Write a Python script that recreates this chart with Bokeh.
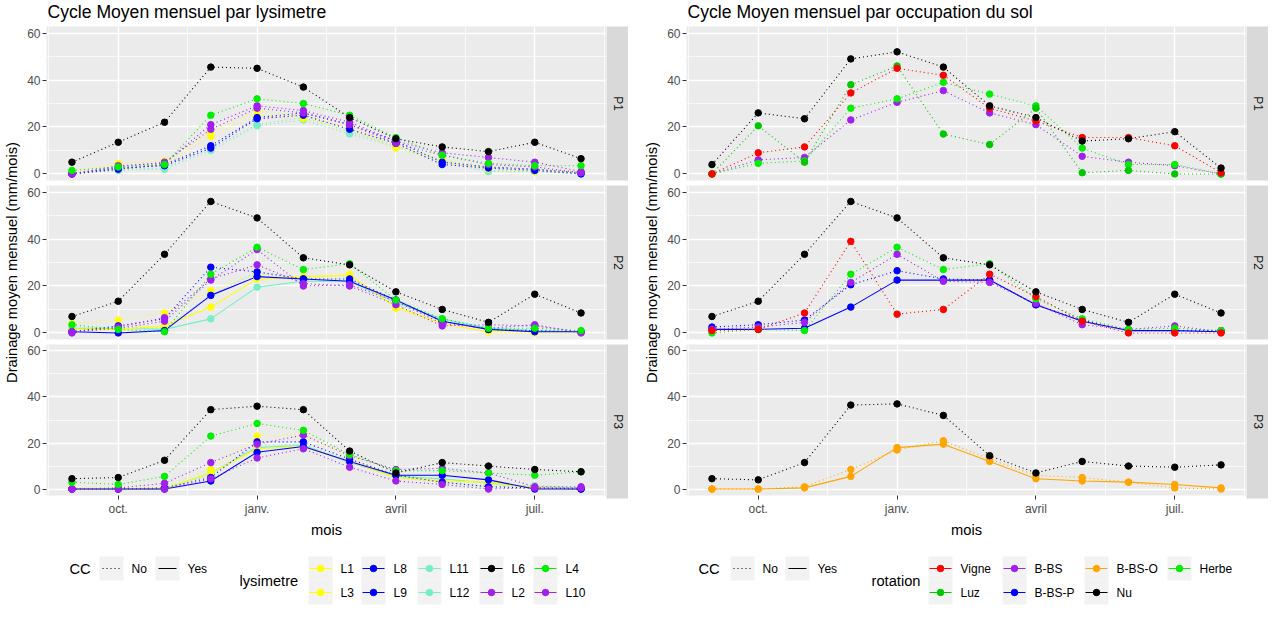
import math
from bokeh.plotting import figure
from bokeh.models import Range1d, FixedTicker, Grid, Label, Spacer
from bokeh.layouts import row, column
from bokeh.embed import file_html
from bokeh.resources import INLINE
from bokeh.core.properties import value

# ---------------- data ----------------
months = ["sept.", "oct.", "nov.", "déc.", "janv.", "févr.", "mars", "avril", "mai", "juin", "juil.", "août"]
month_pos = list(range(len(months)))
x_tick_pos = [1, 4, 7, 10]
x_tick_labels = ["oct.", "janv.", "avril", "juil."]
x_minor_pos = [-0.5, 2.5, 5.5, 8.5, 11.5]
y_tick_pos = [0, 20, 40, 60]
y_minor_pos = [10, 30, 50]
panel_names = ["P1", "P2", "P3"]

# left chart : lysimetre x CC
L11_P1_no = [0.5, 2, 2.5, 11, 21, 24, 18, 12, 6, 1.5, 1, 0.5]
L12_P1_no = [0, 1.5, 2, 10, 20.5, 23, 17, 11.5, 5, 1, 1, 0]
L1_P1_no = [1, 4.5, 5.5, 18, 27, 24.5, 20, 12, 6, 3, 2, 1]
L3_P1_no = [0.5, 2.5, 4, 16, 25, 23.5, 19, 11, 5, 2, 1, 0.5]
L8_P1_no = [0, 2, 4, 12, 24, 26, 21, 14, 5, 3, 2, 0.5]
L9_P1_no = [0, 2.5, 3.5, 11, 23.5, 25, 19, 13, 4, 2.5, 1.5, 0]
L2_P1_no = [0, 3.5, 4.5, 21, 29, 27, 22, 14, 9, 7, 5, 1]
L10_P1_no = [0, 3, 5, 19, 28, 26, 21, 13, 8, 4, 3, 0.5]
L4_P1_no = [1.5, 3, 4, 25, 32, 30, 25, 15.5, 8, 4.5, 3.5, 3.5]
L6_P1_no = [5, 13.5, 22, 45.5, 45, 37, 24, 15, 11.5, 9.5, 13.5, 6.5]

L11_P2_no = [2, 2.5, 2, 16, 26, 22, 22, 12, 6, 1.5, 1, 0.5]
L12_P2_yes = [2, 2, 1.5, 6, 19.5, 22, 22, 13, 6, 2, 1, 0.5]
L1_P2_no = [4, 5.5, 8.5, 18, 25, 23, 25, 10.5, 4, 0.5, 0, 0]
L3_P2_yes = [1.5, 1.5, 3, 11, 23, 24, 24.5, 11, 4, 0.5, 0.5, 0.5]
L8_P2_no = [0.5, 3, 6, 28, 26, 23, 23, 14, 5, 1.5, 1, 0.5]
L9_P2_yes = [0.5, 0, 1, 16, 24, 23, 22, 14, 5, 1.5, 0.5, 0.5]
L2_P2_no = [0.5, 2, 5, 22.5, 35.5, 20, 20.5, 13.5, 4, 2, 3.5, 0]
L10_P2_no = [0, 2.5, 6.5, 23, 29, 21, 20, 12, 3, 3.5, 3, 0.5]
L4_P2_no = [3.5, 1.5, 0.5, 25, 36.5, 27, 29.5, 14, 6, 2, 2, 1]
L6_P2_no = [7, 13.5, 33.5, 56, 49, 32, 29, 17.5, 10, 4.5, 16.5, 8.5]

L11_P3_no = [0, 0, 0.5, 6, 19, 19.5, 12, 5, 3, 1, 1.5, 0.5]
L12_P3_yes = [0, 0, 0, 7, 18, 19, 11.5, 5.5, 4.5, 2.5, 1, 0.5]
L1_P3_no = [0.5, 0.5, 1, 8.5, 23, 24, 14, 5, 3, 2, 1, 0.5]
L3_P3_yes = [0, 0, 0, 7, 17.5, 18.5, 12, 5, 3.5, 3, 0.5, 0]
L8_P3_no = [0, 0, 0.5, 5, 20.5, 20.5, 13, 6, 3, 1, 0.5, 0]
L9_P3_yes = [0, 0, 0, 3.5, 16, 18.5, 12, 6, 6, 4, 0, 0]
L2_P3_no = [0, 0.5, 2.5, 11.5, 19.5, 23.5, 14.5, 8.5, 9, 7, 1, 1]
L10_P3_no = [0, 0, 0, 4.5, 13.5, 17.5, 9.5, 3.5, 2, 0, 0.5, 0.5]
L4_P3_no = [3, 2, 5.5, 23, 28.5, 25.5, 15, 8, 8, 7, 6, 7.5]
L6_P3_no = [4.5, 5, 12.5, 34.5, 36, 34.5, 16.5, 7, 11.5, 10, 8.5, 7.5]

# right chart : rotation x CC
BBS_P1_no = [0, 6, 7, 23, 30.5, 35.5, 26, 21, 7.5, 5, 3.5, 0]
Herbe_P1_no = [0, 4.5, 5.5, 28, 32, 39, 34, 29, 11, 4, 4, 0]
Luz_P1_no = [0, 20.5, 5, 38, 46, 17, 12.5, 28, 0.5, 1.5, 0, 0]
Vigne_P1_no = [0, 9, 11.5, 34.5, 45, 42, 28, 22.5, 15.5, 15.5, 12, 0.5]
Nu_P1_no = [4, 26, 23.5, 49, 52, 45.5, 29, 24, 14, 15, 18, 2.5]

BBSP_P2_yes = [1.5, 1.5, 2, 11, 22.5, 22.5, 22.5, 12, 5, 1, 1, 0.5]
BBSP_P2_no = [2.5, 3.5, 5.5, 20.5, 26.5, 23, 22.5, 12, 5.5, 1, 1, 1]
BBS_P2_no = [1.5, 2.5, 4.5, 21.5, 33.5, 22, 21.5, 12.5, 3.5, 1.5, 3, 0.5]
Herbe_P2_no = [0, 1.5, 1, 25, 36.5, 27, 29.5, 14.5, 6, 1.5, 2, 1]
Vigne_P2_no = [1, 1.5, 8.5, 39, 8, 10, 25, 15.5, 5, 0, 0, 0]
Nu_P2_no = [7, 13.5, 33.5, 56, 49, 32, 29, 17.5, 10, 4.5, 16.5, 8.5]

BBSO_P3_no = [0, 0, 1, 8.5, 17, 21, 13, 6, 5, 3, 0.5, 0]
BBSO_P3_yes = [0, 0, 0.5, 5.5, 18, 19.5, 12, 4.5, 3.5, 3, 2, 0.5]
Nu_P3_no = [4.5, 4, 11.5, 36.5, 37, 32, 14.5, 7, 12, 10, 9.5, 10.5]

lys_series = [
    ("P1", "L11", "No", L11_P1_no), ("P1", "L12", "No", L12_P1_no),
    ("P1", "L1", "No", L1_P1_no), ("P1", "L3", "No", L3_P1_no),
    ("P1", "L8", "No", L8_P1_no), ("P1", "L9", "No", L9_P1_no),
    ("P1", "L2", "No", L2_P1_no), ("P1", "L10", "No", L10_P1_no),
    ("P1", "L4", "No", L4_P1_no), ("P1", "L6", "No", L6_P1_no),
    ("P2", "L11", "No", L11_P2_no), ("P2", "L12", "Yes", L12_P2_yes),
    ("P2", "L1", "No", L1_P2_no), ("P2", "L3", "Yes", L3_P2_yes),
    ("P2", "L8", "No", L8_P2_no), ("P2", "L9", "Yes", L9_P2_yes),
    ("P2", "L2", "No", L2_P2_no), ("P2", "L10", "No", L10_P2_no),
    ("P2", "L4", "No", L4_P2_no), ("P2", "L6", "No", L6_P2_no),
    ("P3", "L11", "No", L11_P3_no), ("P3", "L12", "Yes", L12_P3_yes),
    ("P3", "L1", "No", L1_P3_no), ("P3", "L3", "Yes", L3_P3_yes),
    ("P3", "L8", "No", L8_P3_no), ("P3", "L9", "Yes", L9_P3_yes),
    ("P3", "L2", "No", L2_P3_no), ("P3", "L10", "No", L10_P3_no),
    ("P3", "L4", "No", L4_P3_no), ("P3", "L6", "No", L6_P3_no),
]

rot_series = [
    ("P1", "B-BS", "No", BBS_P1_no), ("P1", "Herbe", "No", Herbe_P1_no),
    ("P1", "Luz", "No", Luz_P1_no), ("P1", "Vigne", "No", Vigne_P1_no),
    ("P1", "Nu", "No", Nu_P1_no),
    ("P2", "B-BS-P", "Yes", BBSP_P2_yes), ("P2", "B-BS-P", "No", BBSP_P2_no),
    ("P2", "B-BS", "No", BBS_P2_no), ("P2", "Herbe", "No", Herbe_P2_no),
    ("P2", "Vigne", "No", Vigne_P2_no), ("P2", "Nu", "No", Nu_P2_no),
    ("P3", "B-BS-O", "No", BBSO_P3_no), ("P3", "B-BS-O", "Yes", BBSO_P3_yes),
    ("P3", "Nu", "No", Nu_P3_no),
]

lys_colors = {"L1": "#FFFF00", "L3": "#FFFF00", "L8": "#0000FF", "L9": "#0000FF",
              "L11": "#76EEC6", "L12": "#76EEC6", "L6": "#000000", "L2": "#A020F0",
              "L4": "#00EE00", "L10": "#A020F0"}
rot_colors = {"Vigne": "#FF0000", "Luz": "#00C800", "B-BS": "#A020F0", "B-BS-P": "#0000FF",
              "B-BS-O": "#FFA500", "Nu": "#000000", "Herbe": "#00EE00"}

lys_legend_cols = [["L1", "L3"], ["L8", "L9"], ["L11", "L12"], ["L6", "L2"], ["L4", "L10"]]
rot_legend_cols = [["Vigne", "Luz"], ["B-BS", "B-BS-P"], ["B-BS-O", "Nu"], ["Herbe"]]
cc_levels = ["No", "Yes"]

# ---------------- layout constants ----------------
FONT = "Liberation Sans"
YL, AX, PW, SW = 22, 24, 560, 22
SIDE_W = YL + AX + PW + SW
TITLE_H, PH, GAP, AXB, LEG_H = 26, 154, 5, 42, 65
ROW1, ROW2, KW, KH = 28, 52, 24, 24
PANEL_BG = "#EBEBEB"
YLABEL = "Drainage moyen mensuel (mm/mois)"
DOT = "1 3"


def bare(width, height, xr, yr, bottom=0):
    f = figure(width=width, height=height, x_range=xr, y_range=yr,
               x_axis_location=None, y_axis_location=None,
               toolbar_location=None, output_backend="svg",
               min_border_left=0, min_border_right=0, min_border_top=0,
               min_border_bottom=bottom)
    f.outline_line_color = None
    f.border_fill_color = "white"
    f.background_fill_color = "white"
    f.grid.visible = False
    return f


def make_panel(specs, colors, panel):
    last = panel == "P3"
    bottom = AXB if last else GAP
    p = figure(width=AX + PW, height=PH + bottom,
               x_range=Range1d(-0.55, 11.55), y_range=Range1d(-2.8, 62.8),
               x_axis_location="below" if last else None, y_axis_location="left",
               toolbar_location=None, output_backend="svg",
               min_border_left=AX, min_border_right=0, min_border_top=0,
               min_border_bottom=bottom)
    p.background_fill_color = PANEL_BG
    p.border_fill_color = "white"
    p.outline_line_color = None
    p.grid.visible = False
    p.add_layout(Grid(dimension=0, ticker=FixedTicker(ticks=x_tick_pos, minor_ticks=x_minor_pos),
                      grid_line_color="white", grid_line_width=1.4,
                      minor_grid_line_color="white", minor_grid_line_width=0.7))
    p.add_layout(Grid(dimension=1, ticker=FixedTicker(ticks=y_tick_pos, minor_ticks=y_minor_pos),
                      grid_line_color="white", grid_line_width=1.4,
                      minor_grid_line_color="white", minor_grid_line_width=0.7))
    ya = p.yaxis[0]
    ya.ticker = FixedTicker(ticks=y_tick_pos)
    ya.axis_line_color = None
    ya.major_tick_line_color = "#333333"
    ya.major_tick_out = 4
    ya.major_tick_in = 0
    ya.minor_tick_line_color = None
    ya.major_label_standoff = 2
    ya.major_label_text_color = "#4D4D4D"
    ya.major_label_text_font = FONT
    ya.major_label_text_font_size = "12px"
    if last:
        xa = p.xaxis[0]
        xa.ticker = FixedTicker(ticks=x_tick_pos)
        xa.major_label_overrides = dict(zip(x_tick_pos, x_tick_labels))
        xa.axis_line_color = None
        xa.major_tick_line_color = "#333333"
        xa.major_tick_out = 4
        xa.major_tick_in = 0
        xa.minor_tick_line_color = None
        xa.major_label_standoff = 2
        xa.major_label_text_color = "#4D4D4D"
        xa.major_label_text_font = FONT
        xa.major_label_text_font_size = "12px"
        xa.axis_label = "mois"
        xa.axis_label_standoff = 3
        xa.axis_label_text_font = FONT
        xa.axis_label_text_font_size = "14.7px"
        xa.axis_label_text_font_style = "normal"
        xa.axis_label_text_color = "#000000"
    sel = [s for s in specs if s[0] == panel]
    for _, name, cc, vals in sel:
        p.line(month_pos, vals, line_color=colors[name], line_width=1.1,
               line_dash="solid" if cc == "Yes" else DOT)
    for _, name, cc, vals in sel:
        p.scatter(month_pos, vals, size=6.5, fill_color=colors[name], line_color=colors[name])
    return p


def make_strip(panel):
    bottom = AXB if panel == "P3" else GAP
    s = bare(SW, PH + bottom, Range1d(0, 1), Range1d(0, 1), bottom)
    s.background_fill_color = "#D9D9D9"
    s.add_layout(Label(x=0.5, y=0.5, text=panel, angle=-math.pi / 2,
                       text_align="center", text_baseline="middle",
                       text_font=FONT, text_font_size="12px", text_color="#1A1A1A"))
    return s


def make_ylabel():
    f = bare(YL, 3 * PH + 2 * GAP + AXB, Range1d(0, 1), Range1d(0, 1), AXB)
    f.add_layout(Label(x=0.5, y=0.5, text=YLABEL, angle=math.pi / 2,
                       text_align="center", text_baseline="middle",
                       text_font=FONT, text_font_size="14.7px", text_color="#000000"))
    return f


def make_title(text):
    f = bare(SIDE_W, TITLE_H, Range1d(0, SIDE_W), Range1d(0, TITLE_H))
    f.add_layout(Label(x=YL + AX + 1, y=TITLE_H - 11, text=text,
                       text_align="left", text_baseline="middle",
                       text_font=FONT, text_font_size="17.6px", text_color="#000000"))
    return f


def make_legend(title2, cols, colors, cc_x, cc_key_x, title2_x, col_x):
    f = bare(SIDE_W, LEG_H, Range1d(0, SIDE_W), Range1d(0, LEG_H))
    ry = [LEG_H - ROW1, LEG_H - ROW2]
    tx = dict(text_font=value(FONT), text_baseline="middle", text_align="left", text_color="#000000")
    # CC legend
    f.text(x=[cc_x], y=[ry[0]], text=["CC"], text_font_size="14.7px", **tx)
    kx = [k + KW / 2 for k in cc_key_x]
    f.rect(x=kx, y=[ry[0]] * 2, width=KW, height=KH, fill_color="#F2F2F2", line_color=None)
    for k, lvl in zip(cc_key_x, cc_levels):
        f.segment(x0=[k + 3], y0=[ry[0]], x1=[k + KW - 3], y1=[ry[0]], line_color="#000000",
                  line_width=1.1, line_dash="solid" if lvl == "Yes" else DOT)
    f.text(x=[k + KW + 8 for k in cc_key_x], y=[ry[0]] * 2, text=cc_levels,
           text_font_size="12px", **tx)
    # colour legend
    f.text(x=[title2_x], y=[(ry[0] + ry[1]) / 2], text=[title2], text_font_size="14.7px", **tx)
    for cx, names in zip(col_x, cols):
        for j, nm in enumerate(names):
            y = ry[j]
            f.rect(x=[cx + KW / 2], y=[y], width=KW, height=KH, fill_color="#F2F2F2", line_color=None)
            f.segment(x0=[cx + 1], y0=[y], x1=[cx + KW - 1], y1=[y], line_color=colors[nm], line_width=1.1)
            f.scatter(x=[cx + KW / 2], y=[y], size=6.5, fill_color=colors[nm], line_color=colors[nm])
            f.text(x=[cx + KW + 8], y=[y], text=[nm], text_font_size="12px", **tx)
    return f


def make_side(title, specs, colors, leg_title, leg_cols, cc_x, cc_key_x, title2_x, col_x):
    panels = [make_panel(specs, colors, pn) for pn in panel_names]
    strips = [make_strip(pn) for pn in panel_names]
    body = row(make_ylabel(), column(*panels, spacing=0), column(*strips, spacing=0), spacing=0)
    return column(make_title(title), body,
                  make_legend(leg_title, leg_cols, colors, cc_x, cc_key_x, title2_x, col_x),
                  spacing=0)


left = make_side("Cycle Moyen mensuel par lysimetre", lys_series, lys_colors,
                 "lysimetre", lys_legend_cols, 69, [99, 155], 239, [308, 361, 417, 479, 533])
right = make_side("Cycle Moyen mensuel par occupation du sol", rot_series, rot_colors,
                  "rotation", rot_legend_cols, 58, [90, 145], 231, [288, 362, 444, 527])

p = row(left, Spacer(width=12, height=10), right, spacing=0)

open("out.html", "w").write(file_html(p, INLINE))
